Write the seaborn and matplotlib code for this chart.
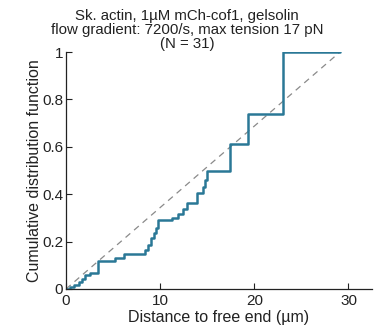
import matplotlib
matplotlib.use("Agg")
import matplotlib.pyplot as plt
import seaborn as sns
import pandas as pd

# Staircase of the cumulative distribution (step-post)
distance_um = [0.0, 0.45, 0.8, 1.35, 1.7, 2.05, 2.6, 3.45, 5.2, 6.2, 8.4, 8.7, 9.0,
               9.3, 9.6, 9.8, 11.3, 11.9, 12.4, 12.8, 13.9, 14.6, 14.8, 15.0, 17.4,
               19.3, 23.1, 29.1]
cdf = [0.0, 0.01, 0.017, 0.031, 0.041, 0.059, 0.069, 0.119, 0.13, 0.147, 0.165, 0.186,
       0.214, 0.235, 0.256, 0.291, 0.30, 0.316, 0.336, 0.364, 0.405, 0.43, 0.46, 0.50,
       0.61, 0.74, 1.0, 1.0]
ref_x = [0.0, 29.1]
ref_y = [0.0, 1.0]
xticks = [0, 10, 20, 30]
yticks = [0, 0.2, 0.4, 0.6, 0.8, 1]
ytick_labels = ["0", "0.2", "0.4", "0.6", "0.8", "1"]
title_lines = ["Sk. actin, 1\u00b5M mCh-cof1, gelsolin",
               "flow gradient: 7200/s, max tension 17 pN",
               "(N = 31)"]

sns.set_style("ticks")
plt.rcParams['font.family'] = ['Liberation Sans', 'DejaVu Sans']

fig = plt.figure(figsize=(3.8, 3.29), dpi=100)
ax = fig.add_axes([66/380, 1-289/329, (372-66)/380, (289-52)/329])

df_ref = pd.DataFrame({"x": ref_x, "y": ref_y})
sns.lineplot(data=df_ref, x="x", y="y", ax=ax, color="#8a8a8a", lw=0.9,
             linestyle=(0, (5, 4)), estimator=None, sort=False)
df = pd.DataFrame({"x": distance_um, "y": cdf})
sns.lineplot(data=df, x="x", y="y", ax=ax, color="#2a7896", lw=1.8,
             drawstyle="steps-post", estimator=None, sort=False)

ax.set_xlim(0, 32.5)
ax.set_ylim(0, 1)
ax.set_xticks(xticks)
ax.set_xticklabels([str(t) for t in xticks])
ax.set_yticks(yticks)
ax.set_yticklabels(ytick_labels)
ax.tick_params(direction="in", length=4, width=0.8, labelsize=11, colors="#222222",
               pad=2)
ax.tick_params(axis="x", pad=3.5)
for s in ["top", "right"]:
    ax.spines[s].set_visible(False)
for s in ["left", "bottom"]:
    ax.spines[s].set_linewidth(0.9)
    ax.spines[s].set_color("#222222")

ax.set_xlabel("Distance to free end (\u00b5m)", fontsize=11.5, labelpad=1.5, color="#222222")
ax.set_ylabel("Cumulative distribution function", fontsize=11.5, labelpad=0, color="#222222")

fig.text(0.492, 1-16/329, title_lines[0], ha="center", va="center", fontsize=10.8, color="#222222")
fig.text(0.492, 1-30/329, title_lines[1], ha="center", va="center", fontsize=10.8, color="#222222")
fig.text(0.492, 1-44/329, title_lines[2], ha="center", va="center", fontsize=10.8, color="#222222")

fig.savefig("out.png", dpi=100)
